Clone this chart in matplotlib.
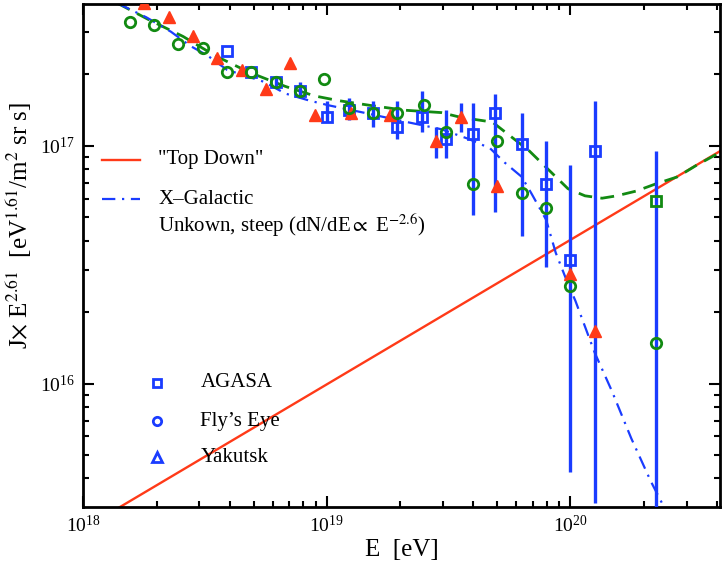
import numpy as np
import matplotlib
matplotlib.use("Agg")
import matplotlib.pyplot as plt

plt.rcParams['font.family'] = ['Liberation Serif', 'DejaVu Serif']
plt.rcParams['mathtext.fontset'] = 'stix'

# ---- data (log10 values) ----
# AGASA
agasa_logE = [18.59, 18.69, 18.79, 18.89, 19.00, 19.09, 19.19, 19.29, 19.39, 19.49,
              19.60, 19.69, 19.80, 19.90, 20.00, 20.10, 20.35]
agasa_logJ = [17.40, 17.31, 17.27, 17.23, 17.12, 17.15, 17.14, 17.08, 17.12, 17.03,
              17.05, 17.14, 17.01, 16.84, 16.52, 16.98, 16.77]
agasa_lo = [17.40, 17.31, 17.245, 17.20, 17.10, 17.11, 17.08, 17.03, 17.06, 16.95,
            16.71, 16.72, 16.62, 16.49, 15.63, 15.50, 15.30]
agasa_hi = [17.40, 17.31, 17.29, 17.27, 17.19, 17.20, 17.19, 17.19, 17.23, 17.15,
            17.18, 17.22, 17.14, 17.02, 16.92, 17.19, 16.98]

# Fly's Eye
fly_logE = [18.19, 18.29, 18.39, 18.49, 18.59, 18.69, 18.79, 18.89, 18.99, 19.09,
            19.19, 19.29, 19.40, 19.49, 19.60, 19.70, 19.80, 19.90, 20.00, 20.35]
fly_logJ = [17.52, 17.51, 17.43, 17.41, 17.31, 17.31, 17.27, 17.23, 17.28, 17.16,
            17.14, 17.14, 17.17, 17.06, 16.84, 17.02, 16.80, 16.74, 16.41, 16.17]

# Yakutsk
yak_logE = [18.25, 18.35, 18.45, 18.55, 18.65, 18.75, 18.85, 18.95, 19.10, 19.26,
            19.45, 19.55, 19.70, 20.00, 20.10]
yak_logJ = [17.60, 17.54, 17.46, 17.37, 17.32, 17.24, 17.35, 17.13, 17.14, 17.13,
            17.02, 17.12, 16.83, 16.46, 16.22]
yak_lo = [17.60, 17.54, 17.46, 17.37, 17.32, 17.24, 17.35, 17.13, 17.14, 17.13,
          16.95, 17.06, 16.83, 16.46, 16.22]
yak_hi = [17.60, 17.54, 17.46, 17.37, 17.32, 17.24, 17.35, 17.13, 17.14, 17.13,
          17.08, 17.18, 16.83, 16.46, 16.22]

# "Top Down" model
td_logE = [18.0, 20.7]
td_logJ = [15.39, 17.03]

# X-Galactic model (dash-dot)
xg_logE = [18.14, 18.26, 18.36, 18.44, 18.51, 18.59, 18.74, 18.83, 18.93, 19.01,
           19.15, 19.33, 19.47, 19.58, 19.67, 19.73, 19.80, 19.84, 19.90, 19.94,
           19.99, 20.02, 20.10, 20.17, 20.25, 20.33, 20.38]
xg_logJ = [17.60, 17.54, 17.48, 17.42, 17.38, 17.32, 17.27, 17.22, 17.19, 17.17,
           17.14, 17.10, 17.07, 17.03, 16.99, 16.93, 16.87, 16.80, 16.69, 16.55,
           16.42, 16.35, 16.13, 15.97, 15.77, 15.59, 15.49]

# sum of both (dashed)
sum_logE = [18.14, 18.27, 18.41, 18.54, 18.68, 18.83, 18.95, 19.05, 19.18, 19.32,
            19.47, 19.55, 19.68, 19.73, 19.83, 19.90, 19.99, 20.06, 20.13, 20.19,
            20.27, 20.35, 20.44, 20.52, 20.61]
sum_logJ = [17.60, 17.53, 17.46, 17.38, 17.31, 17.25, 17.21, 17.19, 17.17, 17.15,
            17.14, 17.12, 17.10, 17.06, 16.98, 16.91, 16.82, 16.79, 16.78, 16.79,
            16.81, 16.84, 16.87, 16.92, 16.97]

red = '#ff3a18'
blue = '#1a3cff'
green = '#128a12'

E = lambda a: 10 ** np.array(a, dtype=float)

fig = plt.figure(figsize=(7.24, 5.71), dpi=100)
ax = fig.add_axes([0.115, 0.112, 0.879, 0.881])
ax.set_xscale('log')
ax.set_yscale('log')

ax.plot(E(td_logE), E(td_logJ), color=red, lw=1.7, zorder=2)
ax.plot(E(sum_logE), E(sum_logJ), color=green, lw=2.0, dashes=(5, 3), zorder=2)
ax.plot(E(xg_logE), E(xg_logJ), color=blue, lw=1.6, dashes=(6, 3, 1, 3), zorder=2)

# error bars
aJ = E(agasa_logJ)
ax.errorbar(E(agasa_logE), aJ, yerr=[aJ - E(agasa_lo), E(agasa_hi) - aJ],
            fmt='none', ecolor=blue, elinewidth=2.4, capsize=0, zorder=3)
yJ = E(yak_logJ)
ax.errorbar(E(yak_logE), yJ, yerr=[yJ - E(yak_lo), E(yak_hi) - yJ],
            fmt='none', ecolor=blue, elinewidth=2.4, capsize=0, zorder=3)

# markers
ax.plot(E(agasa_logE[:-1]), aJ[:-1], 's', ms=7.5, mfc='none', mec=blue, mew=2, zorder=4)
ax.plot(E(agasa_logE[-1:]), aJ[-1:], 's', ms=7.5, mfc='none', mec=green, mew=2, zorder=4)
ax.plot(E(fly_logE), E(fly_logJ), 'o', ms=7.5, mfc='none', mec=green, mew=2, zorder=5)
ax.plot(E(yak_logE), yJ, '^', ms=8, mfc=red, mec=red, mew=1, zorder=4)

ax.set_xlim(1e18, 4.1e20)
ax.set_ylim(3.03e15, 3.95e17)

ax.tick_params(which='both', direction='in', top=True, right=True, width=1.5)
ax.tick_params(which='major', length=8, labelsize=14, pad=6)
ax.tick_params(which='minor', length=4)
for s in ax.spines.values():
    s.set_linewidth(2)

ax.set_xlabel('E  [eV]', fontsize=18, labelpad=2)
ax.set_ylabel(r'J$\times$ E$^{2.61}$  [eV$^{1.61}$/m$^{2}$ sr s]', fontsize=18)
ax.yaxis.set_label_coords(-0.078, 0.56)

# legend (drawn by hand)
tr = ax.transAxes
ax.plot([0.030, 0.089], [0.690, 0.690], color=red, lw=1.7, transform=tr)
ax.text(0.118, 0.690, '"Top Down"', transform=tr, fontsize=15, va='center')
ax.plot([0.030, 0.089], [0.612, 0.612], color=blue, lw=1.6, dashes=(6, 3, 1, 3), transform=tr)
ax.text(0.118, 0.612, 'X\u2013Galactic', transform=tr, fontsize=15, va='center')
ax.text(0.118, 0.560, r'Unkown, steep (dN/dE$\propto$ E$^{-2.6}$)', transform=tr,
        fontsize=15, va='center')

ax.plot([0.116], [0.247], 's', ms=5.5, mfc='none', mec=blue, mew=2, transform=tr)
ax.text(0.184, 0.247, 'AGASA', transform=tr, fontsize=15, va='center')
ax.plot([0.116], [0.171], 'o', ms=6, mfc='none', mec=blue, mew=2, transform=tr)
ax.text(0.184, 0.171, 'Fly\u2019s Eye', transform=tr, fontsize=15, va='center')
ax.plot([0.116], [0.099], '^', ms=6.5, mfc='none', mec=blue, mew=2, transform=tr)
ax.text(0.184, 0.099, 'Yakutsk', transform=tr, fontsize=15, va='center')

fig.savefig('out.png', dpi=100)
